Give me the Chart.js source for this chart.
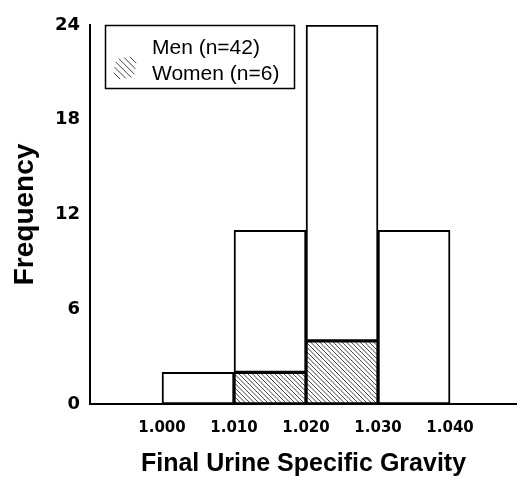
<!DOCTYPE html>
<html>
<head>
<meta charset="utf-8">
<script src="https://cdn.jsdelivr.net/npm/chart.js@4/dist/chart.umd.min.js"></script>
<style>
  html, body { margin: 0; padding: 0; background: #fff; overflow: hidden; }
  canvas { display: block; }
</style>
</head>
<body>
<canvas id="histo" width="517" height="479"></canvas>
<script>
// bin centres (bins are 0.010 wide) and counts per bin
var binCenters = [1.005, 1.015, 1.025, 1.035];
var menCounts = [2, 9, 20, 11];
var womenCounts = [0, 2, 4, 0];
var seriesNames = ['Men (n=42)', 'Women (n=6)'];
var xTickValues = [1.000, 1.010, 1.020, 1.030, 1.040];
var yTickValues = [0, 6, 12, 18, 24];

// hatch pattern for women
function makeHatch() {
  var c = document.createElement('canvas');
  c.width = 9; c.height = 9;
  var g = c.getContext('2d');
  g.fillStyle = '#fff';
  g.fillRect(0, 0, 9, 9);
  g.strokeStyle = '#444';
  g.lineWidth = 1;
  [-9, -4.5, 0, 4.5, 9].forEach(function(k){
    g.beginPath();
    g.moveTo(-1, -1 + k);
    g.lineTo(10, 10 + k);
    g.stroke();
  });
  return g.createPattern(c, 'repeat');
}
var hatch = makeHatch();

function toPoints(values){
  return binCenters.map(function(x, i){ return {x: x, y: values[i]}; });
}

// legend box drawn on top of the plot
var boxLegend = {
  id: 'boxLegend',
  afterDraw: function(chart){
    var ctx = chart.ctx;
    ctx.save();
    ctx.fillStyle = '#fff';
    ctx.fillRect(105, 25, 190, 64);
    ctx.strokeStyle = '#000';
    ctx.lineWidth = 1.5;
    ctx.strokeRect(105.5, 25.5, 189, 63);
    // swatch for women: short "\" strokes
    ctx.strokeStyle = '#444';
    ctx.lineWidth = 1;
    var lens = [9, 16, 22, 22, 16, 9];
    lens.forEach(function(len, i){
      var cx = 117 + 3.2 * i, cy = 76 - 3.2 * i;
      var h = len / 2 / Math.SQRT2;
      ctx.beginPath();
      ctx.moveTo(cx - h, cy - h);
      ctx.lineTo(cx + h, cy + h);
      ctx.stroke();
    });
    ctx.fillStyle = '#000';
    ctx.font = '21px "Liberation Sans", Arial, sans-serif';
    ctx.textBaseline = 'alphabetic';
    ctx.fillText(seriesNames[0], 152, 54);
    ctx.fillText(seriesNames[1], 152, 80);
    ctx.restore();
  }
};

new Chart(document.getElementById('histo'), {
  type: 'bar',
  data: {
    datasets: [{
      label: seriesNames[1],
      data: toPoints(womenCounts),
      backgroundColor: hatch,
      borderColor: '#000',
      borderWidth: 2,
      borderSkipped: false
    }, {
      label: seriesNames[0],
      data: toPoints(menCounts),
      backgroundColor: '#fff',
      borderColor: '#000',
      borderWidth: 2,
      borderSkipped: false
    }]
  },
  options: {
    responsive: false,
    devicePixelRatio: 1,
    animation: false,
    barPercentage: 1,
    categoryPercentage: 1,
    layout: { padding: { top: 25, right: 0, left: 0, bottom: 0 } },
    plugins: { legend: { display: false }, tooltip: { enabled: false } },
    scales: {
      x: {
        type: 'linear',
        stacked: true,
        offset: false,
        min: 0.990,
        max: 1.0493,
        grid: { display: false, drawTicks: false, offset: false },
        border: { display: true, color: '#000', width: 2 },
        afterBuildTicks: function(axis){
          axis.ticks = xTickValues.map(function(v){ return {value: v}; });
        },
        afterFit: function(axis){ axis.height = 75; },
        ticks: {
          color: '#000',
          padding: 15,
          font: { family: '"DejaVu Sans", sans-serif', size: 15, weight: 'bold' },
          callback: function(v){ return Number(v).toFixed(3); }
        },
        title: {
          display: true,
          text: 'Final Urine Specific Gravity',
          color: '#000',
          padding: { top: 0, bottom: 0 },
          font: { family: '"Liberation Sans", Arial, sans-serif', size: 25, weight: 'bold' }
        }
      },
      y: {
        stacked: true,
        min: 0,
        max: 24,
        grid: { display: false, drawTicks: false },
        border: { display: true, color: '#000', width: 2 },
        afterBuildTicks: function(axis){
          axis.ticks = yTickValues.map(function(v){ return {value: v}; });
        },
        afterFit: function(axis){ axis.width = 90; },
        ticks: {
          color: '#000',
          padding: 10,
          font: { family: '"DejaVu Sans", sans-serif', size: 18, weight: 'bold' }
        },
        title: {
          display: true,
          text: 'Frequency',
          color: '#000',
          padding: { top: 8, bottom: 0 },
          font: { family: '"Liberation Sans", Arial, sans-serif', size: 28, weight: 'bold' }
        }
      }
    }
  },
  plugins: [boxLegend]
});
</script>
</body>
</html>
